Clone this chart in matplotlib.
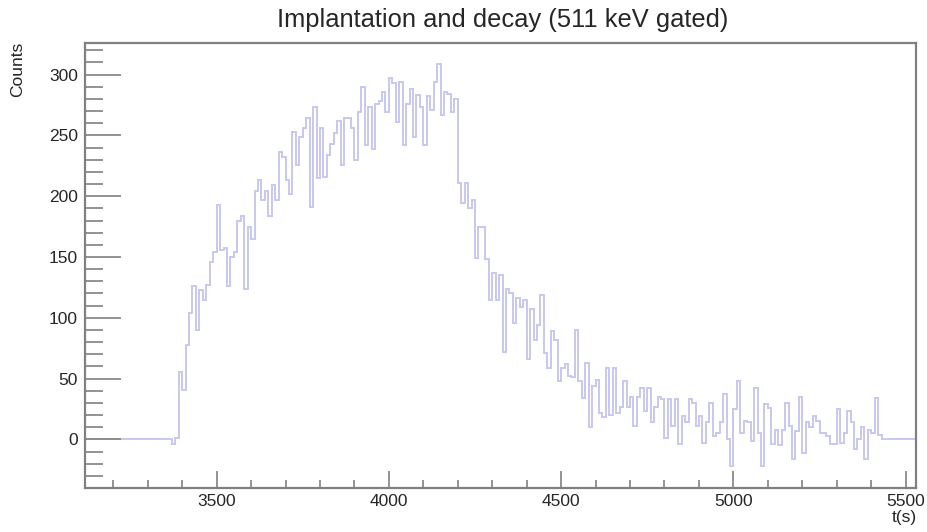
import matplotlib
matplotlib.use("Agg")
import matplotlib.pyplot as plt
import numpy as np
from matplotlib.ticker import MultipleLocator

plt.rcParams["font.family"] = ["Liberation Sans", "DejaVu Sans"]

# ---- histogram: 10 s bins, counts after 511 keV gate --------------------
T_MIN = 3120.0
BIN_W = 10.0

counts_quiet_before = [0] * 25                       # 3120 .. 3360
counts_rise = [
    -4, 1, 55, 41, 78, 104, 126, 90, 123, 115,       # 3370 ..
    127, 146, 154, 193, 156, 157, 126, 150, 154, 180,
    184, 124, 175, 165, 204, 213, 197, 204, 184, 209,
    197, 236, 232, 213, 202, 253, 226, 249, 256, 264,
    191, 273, 215, 256, 216, 234, 243, 252, 262, 226,
    264,                                             # .. 3870
]
counts_top = [
    264, 256, 230, 269, 290, 242, 273, 239, 276, 278,  # 3880 ..
    286, 269, 297, 293, 261, 294, 242, 276, 288, 249,
    283, 273, 242, 282, 271, 294, 309, 267, 286, 284,
    269, 280,                                          # .. 4190
]
counts_fall = [
    211, 194, 211, 190, 197, 149, 175, 175, 148, 115,  # 4200 ..
    137, 115, 135, 72, 124, 120, 96, 116, 109, 115,
    66, 107, 82, 94, 119, 71, 59, 89, 82, 48,
    59, 62, 52, 51, 90, 48, 34, 63, 10, 44,
    49, 22, 18, 59, 20, 59, 22, 27, 48, 27,
    35, 11, 35, 42, 23, 42, 14, 27, 35, 33,
    1, 33, 11, 33, -4, 19, 14, 33, 30, 11,
    19,                                                # .. 4900
]
counts_tail = [
    -3, 14, 30, 3, 5, 14, 37, 0, -22, 25,             # 4910 ..
    48, 5, 15, 14, -1, 42, 5, -22, 29, 26,
    -4, 8, -5, 8, 30, 11, -16, 7, 35, -11,
    14, 10, 19, 15, 5, 5, 3, -4, -4, 25,
    -3, 5, 23, 14, -8, 0, 10, -16, 8, 5,
    34, 4,                                             # .. 5420
]
counts_quiet_after = [0] * 10                         # 5430 .. 5520

counts = np.array(counts_quiet_before + counts_rise + counts_top
                  + counts_fall + counts_tail + counts_quiet_after, float)
edges = T_MIN + BIN_W * np.arange(len(counts) + 1)

LINE = "#c8c8f0"
FRAME = "#808080"
INK = "#262626"

fig = plt.figure(figsize=(9.27, 5.32), dpi=100)
ax = fig.add_axes([85 / 927, 1 - 488 / 532, (916 - 85) / 927, (488 - 43) / 532])

ax.stairs(counts, edges, color=LINE, linewidth=1.4, baseline=None)

ax.set_xlim(3118, 5530)
ax.set_ylim(-40, 326)

ax.xaxis.set_major_locator(MultipleLocator(500))
ax.xaxis.set_minor_locator(MultipleLocator(100))
ax.yaxis.set_major_locator(MultipleLocator(50))
ax.yaxis.set_minor_locator(MultipleLocator(10))

ax.tick_params(axis="both", which="both", direction="in", color=FRAME,
               width=1.2, labelsize=12.5, labelcolor=INK,
               top=False, right=False)
ax.tick_params(axis="x", which="major", length=12, pad=4)
ax.tick_params(axis="x", which="minor", length=6)
ax.tick_params(axis="y", which="major", length=26, pad=5)
ax.tick_params(axis="y", which="minor", length=13)

for sp in ax.spines.values():
    sp.set_color(FRAME)
    sp.set_linewidth(1.6)

fig.text(18 / 927, 1 - 42 / 532, "Counts", rotation=90, ha="center",
         va="top", fontsize=12.5, color=INK)
fig.text(917 / 927, 1 - 510 / 532, "t(s)", ha="right", va="top",
         fontsize=12.5, color=INK)
fig.text(503 / 927, 1 - 27 / 532, "Implantation and decay (511 keV gated)",
         ha="center", va="baseline", fontsize=18.4, color=INK)

fig.savefig("out.png", dpi=100, facecolor="white")
